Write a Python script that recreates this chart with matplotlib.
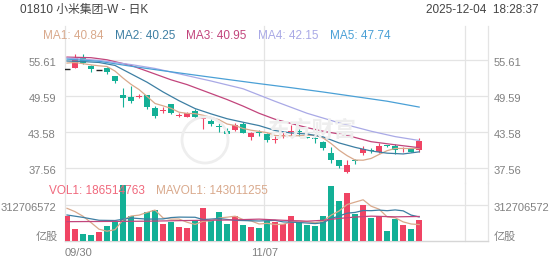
import numpy as np
import matplotlib
matplotlib.use("Agg")
import matplotlib.pyplot as plt
from matplotlib.patches import Ellipse

plt.rcParams['font.family'] = ['Liberation Sans', 'Noto Sans CJK SC']

# daily K data, 01810 from 09/30 to 12/04
opens = [54.1, 54.3, 55.9, 54.6, 54.0, 54.3, 52.9, 49.76, 49.37, 49.5,
         49.76, 47.64, 47.15, 48.25, 46.3, 46.1, 47.0, 45.8, 45.46, 44.55,
         43.8, 43.9, 44.9, 42.68, 43.55, 43.2, 42.25, 42.97, 43.5, 43.6,
         42.65, 42.45, 41.95, 40.1, 38.9, 36.93, 38.8, 40.0, 40.45, 40.28,
         41.3, 41.23, 40.65, 40.73, 40.56]
highs = [54.1, 56.6, 56.7, 54.7, 54.0, 54.4, 53.0, 50.98, 51.3, 50.0,
         49.8, 47.9, 47.7, 48.3, 46.7, 46.9, 47.37, 46.05, 45.7, 45.0,
         44.2, 45.1, 45.3, 43.5, 43.9, 43.45, 42.9, 43.6, 44.74, 44.2,
         42.8, 42.8, 42.0, 41.1, 38.95, 38.9, 39.0, 41.2, 40.9, 41.8,
         41.4, 41.5, 41.1, 40.8, 42.5]
lows = [54.1, 54.3, 54.9, 53.65, 54.0, 53.3, 51.8, 47.7, 48.37, 49.3,
        47.5, 45.96, 46.8, 46.5, 46.0, 46.0, 45.97, 44.0, 44.57, 43.6,
        43.1, 43.8, 43.4, 42.23, 42.9, 41.95, 41.7, 42.5, 42.9, 42.9,
        42.5, 41.7, 40.56, 38.34, 37.5, 36.77, 38.2, 39.7, 40.0, 40.0,
        41.1, 39.85, 40.3, 40.2, 40.28]
closes = [54.1, 56.0, 55.06, 54.05, 54.0, 53.55, 52.15, 49.2, 48.8, 49.65,
          47.8, 46.25, 47.25, 46.7, 46.4, 46.8, 46.03, 45.9, 44.9, 44.46,
          43.24, 44.74, 43.45, 43.45, 43.45, 42.23, 42.35, 43.07, 43.6, 43.5,
          42.6, 42.35, 40.85, 38.9, 37.9, 38.05, 38.7, 40.7, 40.4, 41.23,
          41.2, 40.56, 40.73, 40.28, 42.1]
# volume, millions of shares
volumes = [217, 101, 61, 52, 81, 130, 168, 486, 220, 119,
           249, 269, 145, 168, 122, 110, 174, 284, 182, 249,
           145, 217, 139, 122, 116, 174, 165, 151, 215, 165,
           136, 128, 215, 478, 347, 417, 232, 316, 200, 215,
           84, 195, 136, 108, 186.514763]

# moving averages
ma1 = [55.1, 55.2, 55.0, 54.8, 54.64, 54.53, 53.76, 52.59, 51.54, 50.67,
       49.52, 48.34, 47.95, 47.53, 46.88, 46.68, 46.64, 46.37, 46.01, 45.62,
       44.91, 44.65, 44.16, 43.87, 43.67, 43.46, 42.99, 42.91, 42.94, 42.95,
       43.02, 43.02, 42.58, 41.64, 40.52, 39.61, 38.88, 38.85, 39.15, 39.82,
       40.45, 40.82, 40.82, 40.80, 40.84]
ma2_idx = [0, 2, 4, 6, 8, 10, 12, 14, 16, 18, 20, 22, 24, 26, 28, 30, 32, 34, 36, 38, 40, 42, 44]
ma2 = [55.44, 55.35, 55.2, 54.7, 53.3, 51.9, 50.27, 48.8, 47.49, 46.6, 45.79, 45.2,
       44.64, 43.82, 43.4, 43.24, 42.75, 41.74, 41.0, 40.4, 40.03, 39.9, 40.25]
ma3_idx = [0, 3, 5, 8, 10, 13, 15, 18, 20, 22, 24, 26, 28, 30, 32, 35, 38, 41, 44]
ma3 = [56.1, 56.0, 55.65, 54.7, 53.75, 52.3, 51.5, 50.0, 49.0, 47.9, 46.7, 45.7,
       45.0, 44.3, 43.7, 43.0, 41.95, 41.43, 40.95]
ma4_idx = [0, 4, 8, 11, 15, 18, 22, 26, 30, 34, 38, 41, 44]
ma4 = [55.95, 55.55, 54.85, 54.2, 53.0, 52.1, 50.8, 48.7, 46.7, 45.1, 43.7, 42.8, 42.15]
ma5_idx = [0, 4, 8, 12, 16, 20, 24, 28, 32, 36, 40, 44]
ma5 = [55.76, 55.39, 54.57, 53.82, 53.09, 52.37, 51.66, 50.98, 50.26, 49.49, 48.72, 47.74]

mavol1 = [284, 255, 215, 160, 102.4, 85, 98.4, 183.4, 217, 224.6,
          248.4, 268.6, 200.4, 190, 190.6, 162.8, 143.8, 171.6, 174.4, 199.8,
          206.8, 215.4, 186.4, 174.4, 147.8, 153.6, 143.2, 145.6, 164.2, 174,
          166.4, 159, 171.8, 224.4, 260.8, 317, 337.8, 358, 302.4, 276,
          209.4, 202, 166, 147.6, 143.0]
mavol2_idx = [0, 2, 4, 6, 8, 10, 12, 13, 14, 16, 17, 19, 21, 24, 26, 27, 29, 31, 32,
              33, 34, 35, 36, 37, 38, 39, 40, 41, 42, 43, 44]
mavol2 = [226, 205, 180, 178, 200, 190, 191.9, 203.5, 207.6, 206.2, 186, 195.2, 179.6,
          173.8, 179.3, 166, 160.9, 151.1, 158.7, 194.3, 217.4, 241.7, 248.4, 264.9,
          263.4, 268.4, 263.2, 269.9, 262, 225, 209]
mavol3_idx = [0, 5, 10, 15, 20, 24, 27, 30, 32, 34, 36, 38, 41, 44]
mavol3 = [168, 170, 172, 178, 182, 190, 180, 172, 180, 196, 208, 216, 210, 213]

price_ticks = [55.61, 49.59, 43.58, 37.56]
price_labels = ["55.61", "49.59", "43.58", "37.56"]
vol_tick = 312706572
ma_names = ["MA1", "MA2", "MA3", "MA4", "MA5"]
ma_last = ["40.84", "40.25", "40.95", "42.15", "47.74"]
date_labels = ["09/30", "11/07"]

W, H = 552, 265
RED = "#f04464"
GREEN = "#13b096"
MA_COL = ["#d9a98c", "#3d7fa3", "#c2457c", "#a9a9e6", "#4aa0d6"]
GRID = "#e4e4e4"
TXT = "#808080"


def fx(x):
    return x / W


def fy(y):
    return 1 - y / H


fig = plt.figure(figsize=(W / 100, H / 100), dpi=100)
ax = fig.add_axes([fx(65), fy(183), fx(488) - fx(65), fy(26) - fy(183)])
axv = fig.add_axes([fx(65), fy(241), fx(488) - fx(65), fy(183) - fy(241)])
for a in (ax, axv):
    a.set_axis_off()
    a.set_xlim(-0.25, 52.6)
    for xv in [-0.25, 24.6, 49.75, 52.6]:
        a.axvline(xv, color=GRID, lw=0.9, zorder=0, clip_on=False)
ax.set_ylim(35.04, 61.30)
axv.set_ylim(0, 503.8e6)

for p in price_ticks:
    ax.axhline(p, color=GRID, lw=0.9, zorder=0)
axv.axhline(vol_tick, color=GRID, lw=0.9, zorder=0)
axv.axhline(0, color="#d6d6d6", lw=1, zorder=0, clip_on=False)

# watermark
fig.text(fx(312), fy(131), "东方财富", fontsize=16, color="#eeeeee",
         ha="center", va="center", zorder=0, fontweight="bold")
fig.patches.append(Ellipse((fx(205), fy(140)), 46 / W, 46 / H, fill=False,
                           ec="#eeeeee", lw=2, transform=fig.transFigure, zorder=0))

# candles
o = np.array(opens)
c = np.array(closes)
idx = np.arange(len(o))
cols = [RED if cc >= oo else GREEN for oo, cc in zip(o, c)]
doji = o == c
ax.vlines(idx[~doji], np.array(lows)[~doji], np.array(highs)[~doji],
          colors=[cl for cl, d in zip(cols, doji) if not d], lw=0.8, zorder=3)
body_lo = np.minimum(o, c)
body_h = np.maximum(np.abs(c - o), 0.17)
ax.bar(idx[~doji], body_h[~doji], 0.7, bottom=body_lo[~doji],
       color=[cl for cl, d in zip(cols, doji) if not d], zorder=3)
ax.hlines(c[doji], idx[doji] - 0.35, idx[doji] + 0.35, colors="#222222", lw=1, zorder=3)

ax.plot(idx, ma1, color=MA_COL[0], lw=0.9, zorder=4)
ax.plot(ma2_idx, ma2, color=MA_COL[1], lw=0.9, zorder=4)
ax.plot(ma3_idx, ma3, color=MA_COL[2], lw=0.9, zorder=4)
ax.plot(ma4_idx, ma4, color=MA_COL[3], lw=0.9, zorder=4)
ax.plot(ma5_idx, ma5, color=MA_COL[4], lw=0.9, zorder=4)

# volume
vol = np.array(volumes) * 1e6
axv.bar(idx, vol, 0.72, color=cols, zorder=2)
axv.plot(idx, np.array(mavol1) * 1e6, color=MA_COL[0], lw=0.9, zorder=3)
axv.plot(mavol2_idx, np.array(mavol2) * 1e6, color=MA_COL[1], lw=0.9, zorder=3)
axv.plot(mavol3_idx, np.array(mavol3) * 1e6, color=MA_COL[2], lw=0.9, zorder=3)

# axis labels
for p, lab in zip(price_ticks, price_labels):
    ypx = 183 - (p - 35.04) / (61.30 - 35.04) * (183 - 26) + 3
    fig.text(fx(56), fy(ypx), lab, ha="right", va="center", fontsize=8, color=TXT)
    fig.text(fx(494), fy(ypx), lab, ha="left", va="center", fontsize=8, color=TXT)
fig.text(fx(56), fy(208), str(vol_tick), ha="right", va="center", fontsize=8, color=TXT)
fig.text(fx(494), fy(208), str(vol_tick), ha="left", va="center", fontsize=8, color=TXT)
fig.text(fx(58), fy(237), "亿股", ha="right", va="center", fontsize=8, color=TXT)
fig.text(fx(494), fy(237), "亿股", ha="left", va="center", fontsize=8, color=TXT)
fig.text(fx(65), fy(253), date_labels[0], ha="left", va="center", fontsize=8, color=TXT)
fig.text(fx(265), fy(253), date_labels[1], ha="center", va="center", fontsize=8, color=TXT)

# header
fig.text(fx(20), fy(10), "01810 小米集团-W - 日K", ha="left", va="center",
         fontsize=8.5, color="#444444")
fig.text(fx(539), fy(10), "2025-12-04  18:28:37", ha="right", va="center",
         fontsize=8.5, color="#444444")
for xpos, name, val, col in zip([43, 115, 186, 258, 330], ma_names, ma_last, MA_COL):
    fig.text(fx(xpos), fy(36), f"{name}: {val}", ha="left", va="center",
             fontsize=8.5, color=col)
fig.text(fx(49), fy(191.5), f"VOL1: {int(round(volumes[-1] * 1e6))}", ha="left",
         va="center", fontsize=8.5, color="#f0687c")
fig.text(fx(156), fy(191.5), "MAVOL1: 143011255", ha="left", va="center",
         fontsize=8.5, color=MA_COL[0])

fig.savefig("out.png", dpi=100, facecolor="white")
